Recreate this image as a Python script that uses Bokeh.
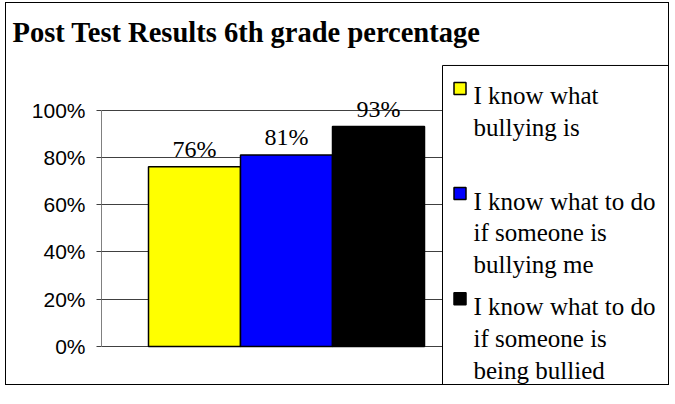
from bokeh.plotting import figure
from bokeh.models import (ColumnDataSource, Range1d, FixedTicker, NumeralTickFormatter,
                          Label, Title)
from bokeh.embed import file_html
from bokeh.resources import INLINE

# ---- data ----
title_text = "Post Test Results 6th grade percentage"
labels = ["I know what\nbullying is",
          "I know what to do\nif someone is\nbullying me",
          "I know what to do\nif someone is\nbeing bullied"]
values = [0.76, 0.81, 0.93]
colors = ["#FFFF00", "#0000FF", "#000000"]
y_ticks = [0.0, 0.2, 0.4, 0.6, 0.8, 1.0]

positions = list(range(len(values)))
value_text = ["{:.0f}%".format(v * 100) for v in values]

src = ColumnDataSource(dict(x=positions, top=values, color=colors, label=labels))

# ---- layout (canvas pixels) ----
W, H = 664, 383
FL, FT = 95, 54          # frame left / top
XU = 92.0                # px per x unit
Y_100, Y_0 = 105.7, 342.8
YU = Y_0 - Y_100         # px per y unit
X0 = -1.0109             # x at frame left
Y1 = 1 + (Y_100 - FT) / YU
X1 = X0 + (W - FL) / XU
Y0 = Y1 - (H - FT) / YU


def dx(cx):
    return X0 + (cx - FL) / XU


def dy(cy):
    return Y1 - (cy - FT) / YU


p = figure(width=W, height=H, output_backend="svg", toolbar_location=None,
           x_range=Range1d(X0, X1), y_range=Range1d(Y0, Y1),
           x_axis_location=None, title=None,
           min_border_left=FL, min_border_right=0,
           min_border_top=FT, min_border_bottom=0)
p.styles = {"border": "1px solid #000000", "margin-left": "5px", "margin-top": "2px"}
p.outline_line_color = None
p.background_fill_color = "white"
p.border_fill_color = "white"

p.vbar(x="x", top="top", width=1.0, source=src, fill_color="color",
       line_color="black", line_width=1.5)

# y axis
ax = p.yaxis[0]
ax.bounds = (0, 1)
ax.ticker = FixedTicker(ticks=y_ticks)
ax.formatter = NumeralTickFormatter(format="0%")
ax.major_label_text_font = "Liberation Sans"
ax.major_label_text_font_size = "21px"
ax.major_label_text_color = "black"
ax.axis_line_color = "#808080"
ax.major_tick_line_color = "#404040"
ax.major_tick_out = 5
ax.major_tick_in = 0
ax.minor_tick_line_color = None
ax.major_label_standoff = 11

p.xgrid.grid_line_color = None
p.ygrid.ticker = FixedTicker(ticks=y_ticks)
p.ygrid.grid_line_color = "#404040"
p.ygrid.grid_line_width = 1

# value labels
for xv, yv, tv in zip(positions, values, value_text):
    p.add_layout(Label(x=xv, y=yv, text=tv, y_offset=18, text_align="center",
                       text_baseline="alphabetic", text_font="Liberation Serif",
                       text_font_size="24px", text_color="black"))

# title
t = Title(text=title_text, align="left", offset=-89, standoff=22,
          text_font="Liberation Serif", text_font_style="bold",
          text_font_size="28.5px", text_color="black")
p.add_layout(t, "above")

# legend (drawn by hand)
p.quad(left=dx(436), right=dx(663), top=dy(61), bottom=dy(382),
       fill_color="white", line_color="black", line_width=1)
item_pitch = 105.5
line_pitch = 32.0
first_base = 91.5
sw_x = [dx(453.5)] * len(labels)
sw_y = [dy(first_base - 7.5 + item_pitch * i) for i in range(len(labels))]
p.rect(x=sw_x, y=sw_y, width=12, height=12, width_units="screen",
       height_units="screen", fill_color=colors, line_color="black", line_width=1.5)
for i, lab in enumerate(labels):
    for j, line in enumerate(lab.split("\n")):
        p.add_layout(Label(x=dx(467), y=dy(first_base + item_pitch * i + line_pitch * j),
                           text=line, text_align="left", text_baseline="alphabetic",
                           text_font="Liberation Serif", text_font_size="25px",
                           text_color="black"))

open("out.html", "w").write(file_html(p, INLINE))
